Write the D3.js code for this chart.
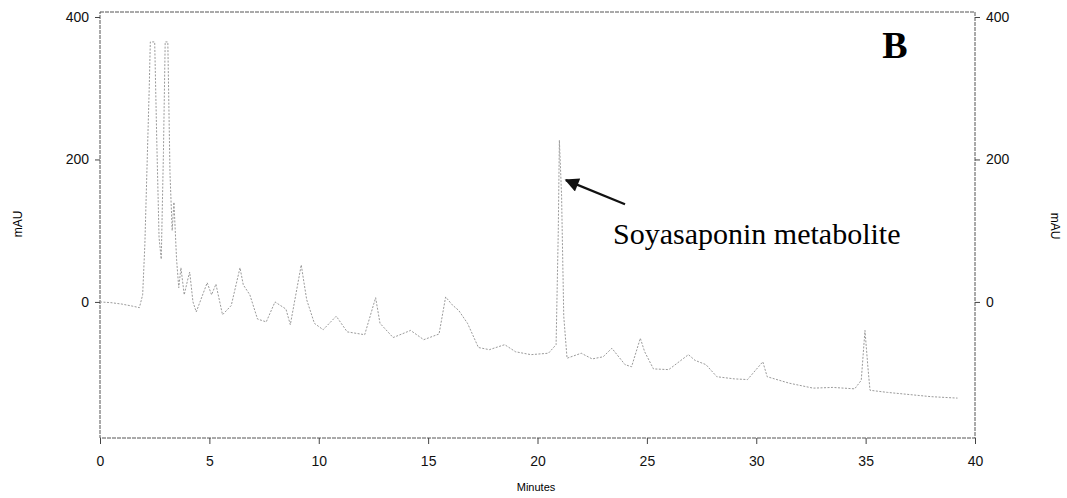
<!DOCTYPE html>
<html>
<head>
<meta charset="utf-8">
<script src="https://cdn.jsdelivr.net/npm/d3@7"></script>
<style>
  body { margin: 0; background: #fff; }
  svg { display: block; }
  .axis text { font-family: "Liberation Sans", Arial, sans-serif; font-size: 14px; fill: #111; }
  .axis path, .axis line { stroke: #444; stroke-width: 1; }
</style>
</head>
<body>
<script>
// retention time (min) and absorbance (mAU)
var times = [0, 0.5, 1.0, 1.5, 1.8, 1.95, 2.05, 2.15, 2.25, 2.3, 2.5, 2.6, 2.7, 2.8, 2.9, 2.98, 3.1, 3.2, 3.3, 3.38,
  3.5, 3.6, 3.7, 3.85, 4.0, 4.1, 4.25, 4.4, 4.9, 5.1, 5.3, 5.6, 6.0, 6.4, 6.55, 6.85, 7.2, 7.6, 8.0, 8.5,
  8.7, 9.2, 9.3, 9.45, 9.8, 10.2, 10.8, 11.3, 12.1, 12.6, 12.8, 13.4, 14.2, 14.8, 15.5, 15.8, 16.1, 16.4, 16.8, 17.3,
  17.8, 18.5, 19.0, 19.7, 20.5, 20.85, 20.95, 21.0, 21.1, 21.2, 21.35, 22.0, 22.5, 23.0, 23.4, 24.0, 24.3, 24.7, 24.9, 25.3,
  26.0, 26.9, 27.2, 27.7, 28.2, 29.0, 29.6, 30.3, 30.5, 31.5, 32.6, 33.5, 34.5, 34.8, 34.97, 35.1, 35.2, 36.0, 37.0, 38.0, 39.2];
var mau = [0, -1, -3, -6, -8, 10, 80, 190, 300, 365, 365, 220, 90, 60, 210, 365, 365, 180, 100, 140,
  60, 20, 48, 10, 30, 42, 0, -14, 27, 10, 25, -18, -5, 48, 24, 10, -24, -28, 0, -10,
  -32, 52, 32, 3, -30, -39, -20, -42, -46, 6, -30, -50, -40, -53, -45, 7, -4, -12, -30, -64,
  -67, -60, -70, -74, -72, -60, 100, 227, 150, -20, -79, -72, -80, -77, -65, -88, -91, -51, -70, -94,
  -95, -74, -82, -88, -105, -108, -109, -84, -105, -114, -121, -120, -122, -110, -40, -90, -124, -127, -130, -133, -135];

var xTicks = [0, 5, 10, 15, 20, 25, 30, 35, 40];
var yTicks = [0, 200, 400];

var width = 1067, height = 498;
var m = { left: 100, right: 975, top: 12, bottom: 438 };

var svg = d3.select("body").append("svg").attr("width", width).attr("height", height);

var x = d3.scaleLinear().domain([0, 40]).range([m.left, m.right]);
var y = d3.scaleLinear().domain([-191, 407]).range([m.bottom, m.top]);

// frame
svg.append("rect").attr("x", m.left).attr("y", m.top).attr("width", m.right - m.left).attr("height", m.bottom - m.top)
  .attr("fill", "none").attr("stroke", "#555").attr("stroke-width", 1).attr("stroke-dasharray", "4,1");

var xaxis = d3.axisBottom(x).tickValues(xTicks).tickSize(6).tickPadding(12).tickSizeOuter(0);
var yaxisL = d3.axisLeft(y).tickValues(yTicks).tickSize(5).tickPadding(6).tickSizeOuter(0);
var yaxisR = d3.axisRight(y).tickValues(yTicks).tickSize(5).tickPadding(6).tickSizeOuter(0);

svg.append("g").attr("class", "axis").attr("transform", "translate(0," + m.bottom + ")").call(xaxis)
  .call(function (g) { g.select(".domain").remove(); });
svg.append("g").attr("class", "axis").attr("transform", "translate(" + m.left + ",0)").call(yaxisL)
  .call(function (g) { g.select(".domain").remove(); });
svg.append("g").attr("class", "axis").attr("transform", "translate(" + m.right + ",0)").call(yaxisR)
  .call(function (g) { g.select(".domain").remove(); });

// axis titles
svg.append("text").attr("x", 536).attr("y", 491).attr("text-anchor", "middle")
  .style("font-family", "Liberation Sans, Arial, sans-serif").style("font-size", "11px").text("Minutes");
svg.append("text").attr("transform", "translate(22,224) rotate(-90)").attr("text-anchor", "middle")
  .style("font-family", "Liberation Sans, Arial, sans-serif").style("font-size", "12px").text("mAU");
svg.append("text").attr("transform", "translate(1051,226) rotate(90)").attr("text-anchor", "middle")
  .style("font-family", "Liberation Sans, Arial, sans-serif").style("font-size", "12px").text("mAU");

// trace
var pts = times.map(function (t, i) { return [t, mau[i]]; });
var line = d3.line().x(function (d) { return x(d[0]); }).y(function (d) { return y(d[1]); });
svg.append("path").datum(pts).attr("d", line).attr("fill", "none")
  .attr("stroke", "#9a9a9a").attr("stroke-width", 1).attr("stroke-dasharray", "2,1.5");

// panel letter
svg.append("text").attr("x", 895).attr("y", 58).attr("text-anchor", "middle")
  .style("font-family", "Liberation Serif, Times New Roman, serif").style("font-weight", "bold")
  .style("font-size", "38px").text("B");

// annotation
svg.append("defs").append("marker").attr("id", "head").attr("viewBox", "0 0 10 10")
  .attr("refX", 9).attr("refY", 5)
  .attr("markerUnits", "userSpaceOnUse").attr("orient", "auto")
  .attr("markerWidth", 18).attr("markerHeight", 14)
  .append("path").attr("d", "M0,0L10,5L0,10z").attr("fill", "#111");
svg.append("line").attr("x1", x(24.0)).attr("y1", y(137)).attr("x2", x(21.3)).attr("y2", y(171))
  .attr("stroke", "#111").attr("stroke-width", 2.2).attr("marker-end", "url(#head)");
svg.append("text").attr("x", 613).attr("y", 244)
  .style("font-family", "Liberation Serif, Times New Roman, serif").style("font-size", "30px")
  .text("Soyasaponin metabolite");
</script>
</body>
</html>
